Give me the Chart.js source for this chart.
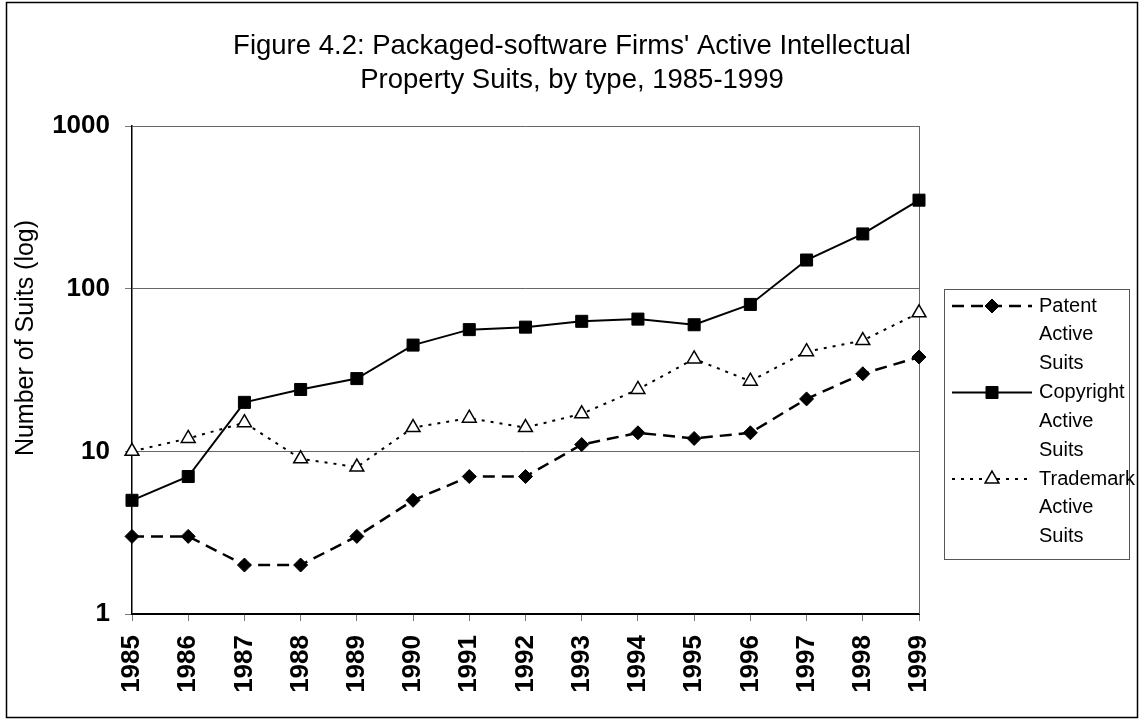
<!DOCTYPE html>
<html>
<head>
<meta charset="utf-8">
<script src="https://cdn.jsdelivr.net/npm/chart.js@4/dist/chart.umd.min.js"></script>
<style>
  body { margin: 0; background: #fff; }
  canvas { display: block; }
</style>
</head>
<body>
<canvas id="suits-chart" width="1142" height="725"></canvas>
<script>
// years on the x axis
const years = ['1985','1986','1987','1988','1989','1990','1991','1992','1993','1994','1995','1996','1997','1998','1999'];

// active suits per year
const patentSuits    = [3, 3, 2, 2, 3, 5, 7, 7, 11, 13, 12, 13, 21, 30, 38];
const copyrightSuits = [5, 7, 20, 24, 28, 45, 56, 58, 63, 65, 60, 80, 150, 217, 350];
const trademarkSuits = [10, 12, 15, 9, 8, 14, 16, 14, 17, 24, 37, 27, 41, 48, 71];

const yTicks = [1, 10, 100, 1000];
const titleLines = ['Figure 4.2: Packaged-software Firms\' Active Intellectual', 'Property Suits, by type, 1985-1999'];
const legendLines = [
    ['Patent', 'Active', 'Suits'],
    ['Copyright', 'Active', 'Suits'],
    ['Trademark', 'Active', 'Suits'],
];

const FONT = "'Liberation Sans', Arial, sans-serif";

function markerPoint(ctx, ds, x, y) {
    ctx.save();
    ctx.fillStyle = ds.pointBackgroundColor;
    ctx.strokeStyle = ds.pointBorderColor;
    ctx.lineWidth = ds.pointBorderWidth;
    Chart.helpers.drawPoint(ctx, { pointStyle: ds.pointStyle, radius: ds.pointRadius, borderWidth: ds.pointBorderWidth }, x, y);
    ctx.restore();
}

// title, y title, frame and the wrapped legend
const decorations = {
    id: 'decorations',
    beforeDraw(chart) {
        const ctx = chart.ctx;
        ctx.save();
        ctx.fillStyle = '#fff';
        ctx.fillRect(0, 0, chart.width, chart.height);
        ctx.restore();
    },
    beforeDatasetsDraw(chart) {
        const { ctx, chartArea } = chart;
        ctx.save();
        ctx.strokeStyle = '#666';
        ctx.lineWidth = 1;
        ctx.beginPath();
        ctx.moveTo(chartArea.right + 0.5, chartArea.top);
        ctx.lineTo(chartArea.right + 0.5, chartArea.bottom);
        ctx.stroke();
        ctx.restore();
    },
    afterDraw(chart) {
        const ctx = chart.ctx;
        ctx.save();
        // outer frame
        ctx.strokeStyle = '#000';
        ctx.lineWidth = 1.5;
        ctx.strokeRect(6.5, 2.5, 1131, 715);

        // title
        ctx.fillStyle = '#000';
        ctx.font = '27.5px ' + FONT;
        ctx.textAlign = 'center';
        ctx.textBaseline = 'middle';
        ctx.fillText(titleLines[0], 572, 46);
        ctx.fillText(titleLines[1], 572, 80);

        // y axis title
        ctx.save();
        ctx.translate(26, 338);
        ctx.rotate(-Math.PI / 2);
        ctx.font = '25px ' + FONT;
        ctx.fillText('Number of Suits (log)', 0, 0);
        ctx.restore();

        // legend
        const lx = 944, ly = 289, lw = 185, lh = 270;
        ctx.fillStyle = '#fff';
        ctx.fillRect(lx, ly, lw, lh);
        ctx.strokeStyle = '#555';
        ctx.lineWidth = 1;
        ctx.strokeRect(lx + 0.5, ly + 0.5, lw, lh);

        ctx.font = '20px ' + FONT;
        ctx.textAlign = 'left';
        chart.data.datasets.forEach((ds, i) => {
            const y0 = 306 + i * 86.5;
            ctx.save();
            ctx.strokeStyle = ds.borderColor;
            ctx.lineWidth = ds.borderWidth;
            ctx.setLineDash(ds.borderDash || []);
            ctx.beginPath();
            ctx.moveTo(952, y0);
            ctx.lineTo(1032, y0);
            ctx.stroke();
            ctx.restore();
            markerPoint(ctx, ds, 992, y0);
            ctx.fillStyle = '#000';
            legendLines[i].forEach((t, k) => {
                ctx.fillText(t, 1039, y0 + k * 28.8);
            });
        });
        ctx.restore();
    }
};

new Chart(document.querySelector('#suits-chart').getContext('2d'), {
    type: 'line',
    data: {
        labels: years,
        datasets: [
            {
                label: 'Patent Active Suits',
                data: patentSuits,
                borderColor: '#000',
                borderWidth: 2.5,
                borderDash: [12, 7],
                pointStyle: 'rectRot',
                pointRadius: 7,
                pointBackgroundColor: '#000',
                pointBorderColor: '#000',
                pointBorderWidth: 1,
                tension: 0,
                clip: false,
            },
            {
                label: 'Copyright Active Suits',
                data: copyrightSuits,
                borderColor: '#000',
                borderWidth: 2,
                pointStyle: 'rect',
                pointRadius: 8.5,
                pointBackgroundColor: '#000',
                pointBorderColor: '#000',
                pointBorderWidth: 1,
                tension: 0,
                clip: false,
            },
            {
                label: 'Trademark Active Suits',
                data: trademarkSuits,
                borderColor: '#000',
                borderWidth: 2,
                borderDash: [3, 6],
                pointStyle: 'triangle',
                pointRadius: 8,
                pointBackgroundColor: '#fff',
                pointBorderColor: '#000',
                pointBorderWidth: 1.5,
                tension: 0,
                clip: false,
            },
        ]
    },
    options: {
        responsive: false,
        animation: false,
        devicePixelRatio: 1,
        layout: {
            autoPadding: false,
            padding: { left: 0, right: 223, top: 126, bottom: 0 }
        },
        plugins: {
            legend: { display: false },
            title: { display: false },
            tooltip: { enabled: false },
        },
        scales: {
            x: {
                type: 'category',
                offset: false,
                afterFit: s => { s.height = 111; },
                border: { color: '#000', width: 2 },
                grid: { drawOnChartArea: false, tickLength: 7, tickColor: '#777' },
                ticks: {
                    minRotation: 90,
                    maxRotation: 90,
                    autoSkip: false,
                    padding: 14,
                    color: '#000',
                    font: { family: FONT, size: 26, weight: 'bold' },
                },
            },
            y: {
                type: 'logarithmic',
                min: 1,
                max: 1000,
                afterFit: s => { s.width = 132; },
                afterBuildTicks: s => { s.ticks = yTicks.map(v => ({ value: v })); },
                border: { color: '#000', width: 1.5 },
                grid: { color: '#666', lineWidth: 1, tickLength: 7, tickColor: '#777' },
                ticks: {
                    padding: 15,
                    color: '#000',
                    font: { family: FONT, size: 26, weight: 'bold' },
                    callback: v => String(v),
                },
            },
        },
    },
    plugins: [decorations],
});
</script>
</body>
</html>
